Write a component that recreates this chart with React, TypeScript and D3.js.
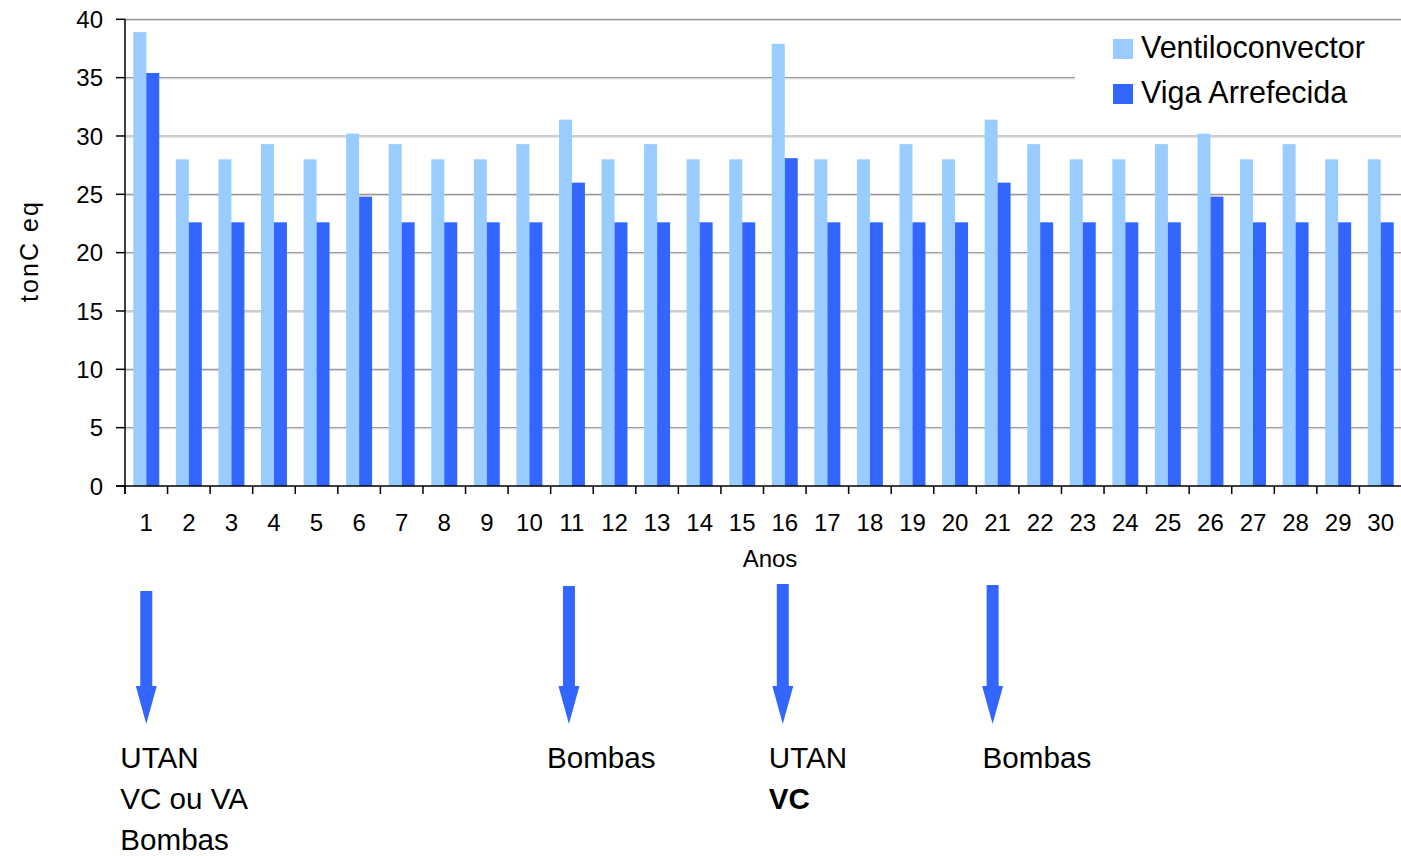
import React from "react";
import * as d3 from "d3";

const years: number[] = d3.range(1, 31);
const seriesNames = ["Ventiloconvector", "Viga Arrefecida"];
const ventiloconvector: number[] = [
  38.9, 28, 28, 29.3, 28, 30.2, 29.3, 28, 28, 29.3,
  31.4, 28, 29.3, 28, 28, 37.9, 28, 28, 29.3, 28,
  31.4, 29.3, 28, 28, 29.3, 30.2, 28, 29.3, 28, 28,
];
const vigaArrefecida: number[] = [
  35.4, 22.6, 22.6, 22.6, 22.6, 24.8, 22.6, 22.6, 22.6, 22.6,
  26.0, 22.6, 22.6, 22.6, 22.6, 28.1, 22.6, 22.6, 22.6, 22.6,
  26.0, 22.6, 22.6, 22.6, 22.6, 24.8, 22.6, 22.6, 22.6, 22.6,
];
const yTicks: number[] = [0, 5, 10, 15, 20, 25, 30, 35, 40];
const annotationYears: number[] = [1, 11, 16, 21];
const annotationLines: { text: string; bold: boolean }[][] = [
  [
    { text: "UTAN", bold: false },
    { text: "VC ou VA", bold: false },
    { text: "Bombas", bold: false },
  ],
  [{ text: "Bombas", bold: false }],
  [
    { text: "UTAN", bold: false },
    { text: "VC", bold: true },
  ],
  [{ text: "Bombas", bold: false }],
];

const colors = ["#99CCFF", "#3366FF"];
const FONT = "'Liberation Sans', Arial, Helvetica, sans-serif";

export default function App() {
  const W = 1401;
  const H = 856;
  const left = 125;
  const right = 1402;
  const y0 = 486;
  const yTop = 19.3;

  const x = d3.scaleBand<number>().domain(years).range([left, right]).padding(0);
  const bw = x.bandwidth();
  const xs = d3
    .scaleBand<string>()
    .domain(seriesNames)
    .range([0, bw])
    .paddingInner(0)
    .paddingOuter(0.64);
  const y = d3.scaleLinear().domain([0, 40]).range([y0, yTop]);
  const values = [ventiloconvector, vigaArrefecida];

  const arrowDx = [0, -3, -2, -5];
  const textDx = [-26, -22, -14, -10];
  const shaftTop = [591, 586, 584, 585];

  return (
    <svg
      width={W}
      height={H}
      style={{ position: "absolute", left: 0, top: 0, background: "#fff" }}
      fontFamily={FONT}
    >
      {/* gridlines */}
      {yTicks
        .filter((t) => t > 0)
        .map((t) => (
          <g key={"g" + t}>
            <line x1={left} x2={W} y1={y(t)} y2={y(t)} stroke="#9a9a9a" strokeWidth={1.2} />
            <line x1={left} x2={W} y1={y(t) + 1.2} y2={y(t) + 1.2} stroke="#d6d6d6" strokeWidth={1} />
          </g>
        ))}
      {/* legend background */}
      <rect x={1075} y={26} width={W - 1075} height={100} fill="#fff" />

      {/* bars */}
      {years.map((yr, i) =>
        seriesNames.map((s, k) => {
          const v = values[k][i];
          return (
            <rect
              key={yr + s}
              x={(x(yr) as number) + (xs(s) as number)}
              y={y(v)}
              width={xs.bandwidth()}
              height={y0 - y(v)}
              fill={colors[k]}
            />
          );
        })
      )}

      {/* axes */}
      <line x1={left} x2={left} y1={yTop} y2={y0 + 8} stroke="#000" strokeWidth={1.5} />
      <line x1={left - 9} x2={W} y1={y0} y2={y0} stroke="#000" strokeWidth={1.5} />
      {yTicks.map((t) => (
        <g key={"yt" + t}>
          <line x1={left - 9} x2={left} y1={y(t)} y2={y(t)} stroke="#000" strokeWidth={1.5} />
          <text x={103} y={y(t)} dy="0.36em" textAnchor="end" fontSize={24} fill="#000">
            {t}
          </text>
        </g>
      ))}
      {years.map((yr) => (
        <g key={"xt" + yr}>
          <line
            x1={x(yr) as number}
            x2={x(yr) as number}
            y1={y0}
            y2={y0 + 8}
            stroke="#000"
            strokeWidth={1.5}
          />
          <text
            x={(x(yr) as number) + bw / 2}
            y={531}
            textAnchor="middle"
            fontSize={24}
            fill="#000"
          >
            {yr}
          </text>
        </g>
      ))}
      <text x={770} y={567} textAnchor="middle" fontSize={24} fill="#000">
        Anos
      </text>
      <text
        transform={`translate(38,252) rotate(-90)`}
        textAnchor="middle"
        fontSize={25}
        textLength={100}
        lengthAdjust="spacing"
        fill="#000"
      >
        tonC eq
      </text>

      {/* legend */}
      {seriesNames.map((s, k) => (
        <g key={"lg" + s}>
          <rect x={1113} y={39 + k * 45} width={20} height={20} fill={colors[k]} />
          <text x={1141} y={58 + k * 45} fontSize={30.5} fill="#000">
            {s}
          </text>
        </g>
      ))}

      {/* annotations */}
      {annotationYears.map((yr, i) => {
        const cx = (x(yr) as number) + bw / 2 + arrowDx[i];
        const top = shaftTop[i];
        const headY = 686;
        const tip = 724;
        const path = `M${cx - 6},${top} L${cx + 6},${top} L${cx + 6},${headY} L${cx + 10.5},${headY} L${cx},${tip} L${cx - 10.5},${headY} L${cx - 6},${headY} Z`;
        return (
          <g key={"an" + yr}>
            <path d={path} fill="#3366FF" />
            {annotationLines[i].map((ln, j) => (
              <text
                key={j}
                x={cx + textDx[i]}
                y={768 + j * 41}
                fontSize={29.6}
                fontWeight={ln.bold ? "bold" : "normal"}
                fill="#000"
              >
                {ln.text}
              </text>
            ))}
          </g>
        );
      })}
    </svg>
  );
}
